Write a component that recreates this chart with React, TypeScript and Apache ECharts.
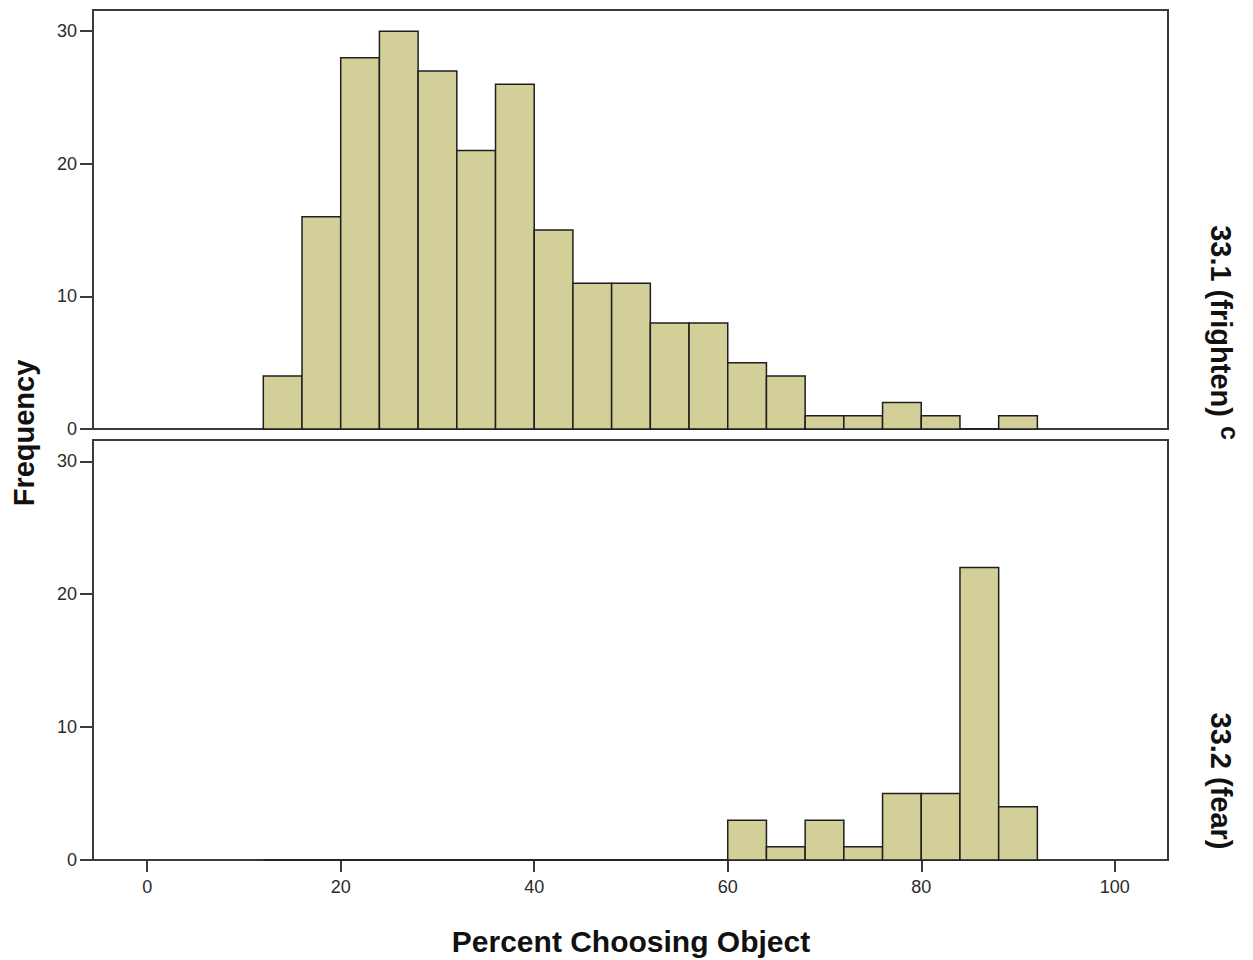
import React, { useEffect, useRef } from "react";
import * as echarts from "echarts";

const binWidth = 4;
const topBinStarts = [12, 16, 20, 24, 28, 32, 36, 40, 44, 48, 52, 56, 60, 64, 68, 72, 76, 80, 84, 88];
const topCounts = [4, 16, 28, 30, 27, 21, 26, 15, 11, 11, 8, 8, 5, 4, 1, 1, 2, 1, 0, 1];
const bottomBinStarts = [12, 16, 20, 24, 28, 32, 36, 40, 44, 48, 52, 56, 60, 64, 68, 72, 76, 80, 84, 88];
const bottomCounts = [0, 0, 0, 0, 0, 0, 0, 0, 0, 0, 0, 0, 3, 1, 3, 1, 5, 5, 22, 4];
const xTicks = [0, 20, 40, 60, 80, 100];
const yTicks = [0, 10, 20, 30];
const xTitle = "Percent Choosing Object";
const yTitle = "Frequency";
const topPanelLabel = "33.1 (frighten)";
const topPanelSup = "c";
const bottomPanelLabel = "33.2 (fear)";

const FONT = "'Liberation Sans', Arial, sans-serif";
const BAR_FILL = "#d3cf98";
const BAR_STROKE = "#1f1f1f";
const FRAME = "#3a3a3a";

function toData(starts: number[], counts: number[]) {
  return starts.map((s, i) => [s, s + binWidth, counts[i]]);
}

const renderBar = (params: any, api: any) => {
  const lo = api.value(0);
  const hi = api.value(1);
  const c = api.value(2);
  const p0 = api.coord([lo, 0]);
  const p1 = api.coord([hi, c]);
  return {
    type: "rect",
    shape: { x: p0[0], y: p1[1], width: p1[0] - p0[0], height: p0[1] - p1[1] },
    style: { fill: BAR_FILL, stroke: BAR_STROKE, lineWidth: 1.5 },
  };
};

export default function App() {
  const ref = useRef<HTMLDivElement>(null);
  useEffect(() => {
    if (!ref.current) return;
    const chart = echarts.init(ref.current, undefined, { renderer: "svg" });
    const xBase = {
      type: "value",
      min: -5.6,
      max: 105.5,
      splitLine: { show: false },
    };
    const yBase = {
      type: "value",
      min: 0,
      max: 31.6,
      splitLine: { show: false },
      axisLine: { show: true, onZero: false, lineStyle: { color: FRAME, width: 2 } },
      axisTick: { show: true, length: 13, customValues: yTicks, lineStyle: { color: FRAME, width: 2 } },
      axisLabel: { customValues: yTicks, margin: 16, fontSize: 18, color: "#2b2b2b", fontFamily: FONT },
    };
    chart.setOption({
      animation: false,
      backgroundColor: "#ffffff",
      grid: [
        { left: 93, top: 10, width: 1075, height: 419, show: true, borderColor: FRAME, borderWidth: 2, backgroundColor: "transparent" },
        { left: 93, top: 440, width: 1075, height: 420, show: true, borderColor: FRAME, borderWidth: 2, backgroundColor: "transparent" },
      ],
      xAxis: [
        {
          ...xBase,
          gridIndex: 0,
          axisLine: { show: true, onZero: false, lineStyle: { color: FRAME, width: 2 } },
          axisTick: { show: false },
          axisLabel: { show: false },
        },
        {
          ...xBase,
          gridIndex: 1,
          axisLine: { show: true, onZero: false, lineStyle: { color: FRAME, width: 2 } },
          axisTick: { show: true, length: 12, customValues: xTicks, lineStyle: { color: FRAME, width: 2 } },
          axisLabel: { customValues: xTicks, margin: 18, fontSize: 18, color: "#2b2b2b", fontFamily: FONT },
        },
      ],
      yAxis: [
        { ...yBase, gridIndex: 0 },
        { ...yBase, gridIndex: 1 },
      ],
      series: [
        {
          type: "custom",
          xAxisIndex: 0,
          yAxisIndex: 0,
          renderItem: renderBar,
          encode: { x: [0, 1], y: 2 },
          data: toData(topBinStarts, topCounts),
        },
        {
          type: "custom",
          xAxisIndex: 1,
          yAxisIndex: 1,
          renderItem: renderBar,
          encode: { x: [0, 1], y: 2 },
          data: toData(bottomBinStarts, bottomCounts),
        },
      ],
      graphic: [
        {
          type: "text",
          x: 631,
          y: 941,
          style: { text: xTitle, fontSize: 30, fontWeight: "bold", fontFamily: FONT, fill: "#111", align: "center", verticalAlign: "middle" },
        },
        {
          type: "text",
          x: 24,
          y: 433,
          rotation: Math.PI / 2,
          style: { text: yTitle, fontSize: 29, fontWeight: "bold", fontFamily: FONT, fill: "#111", align: "center", verticalAlign: "middle" },
        },
        {
          type: "text",
          x: 1221,
          y: 321,
          rotation: -Math.PI / 2,
          style: { text: topPanelLabel, fontSize: 29, fontWeight: "bold", fontFamily: FONT, fill: "#111", align: "center", verticalAlign: "middle" },
        },
        {
          type: "text",
          x: 1230,
          y: 433,
          rotation: -Math.PI / 2,
          style: { text: topPanelSup, fontSize: 25, fontWeight: "bold", fontFamily: FONT, fill: "#111", align: "center", verticalAlign: "middle" },
        },
        {
          type: "text",
          x: 1221,
          y: 781,
          rotation: -Math.PI / 2,
          style: { text: bottomPanelLabel, fontSize: 29, fontWeight: "bold", fontFamily: FONT, fill: "#111", align: "center", verticalAlign: "middle" },
        },
      ],
    });
    return () => chart.dispose();
  }, []);
  return (
    <div
      ref={ref}
      style={{ position: "absolute", left: 0, top: 0, width: 1253, height: 960 }}
    />
  );
}
